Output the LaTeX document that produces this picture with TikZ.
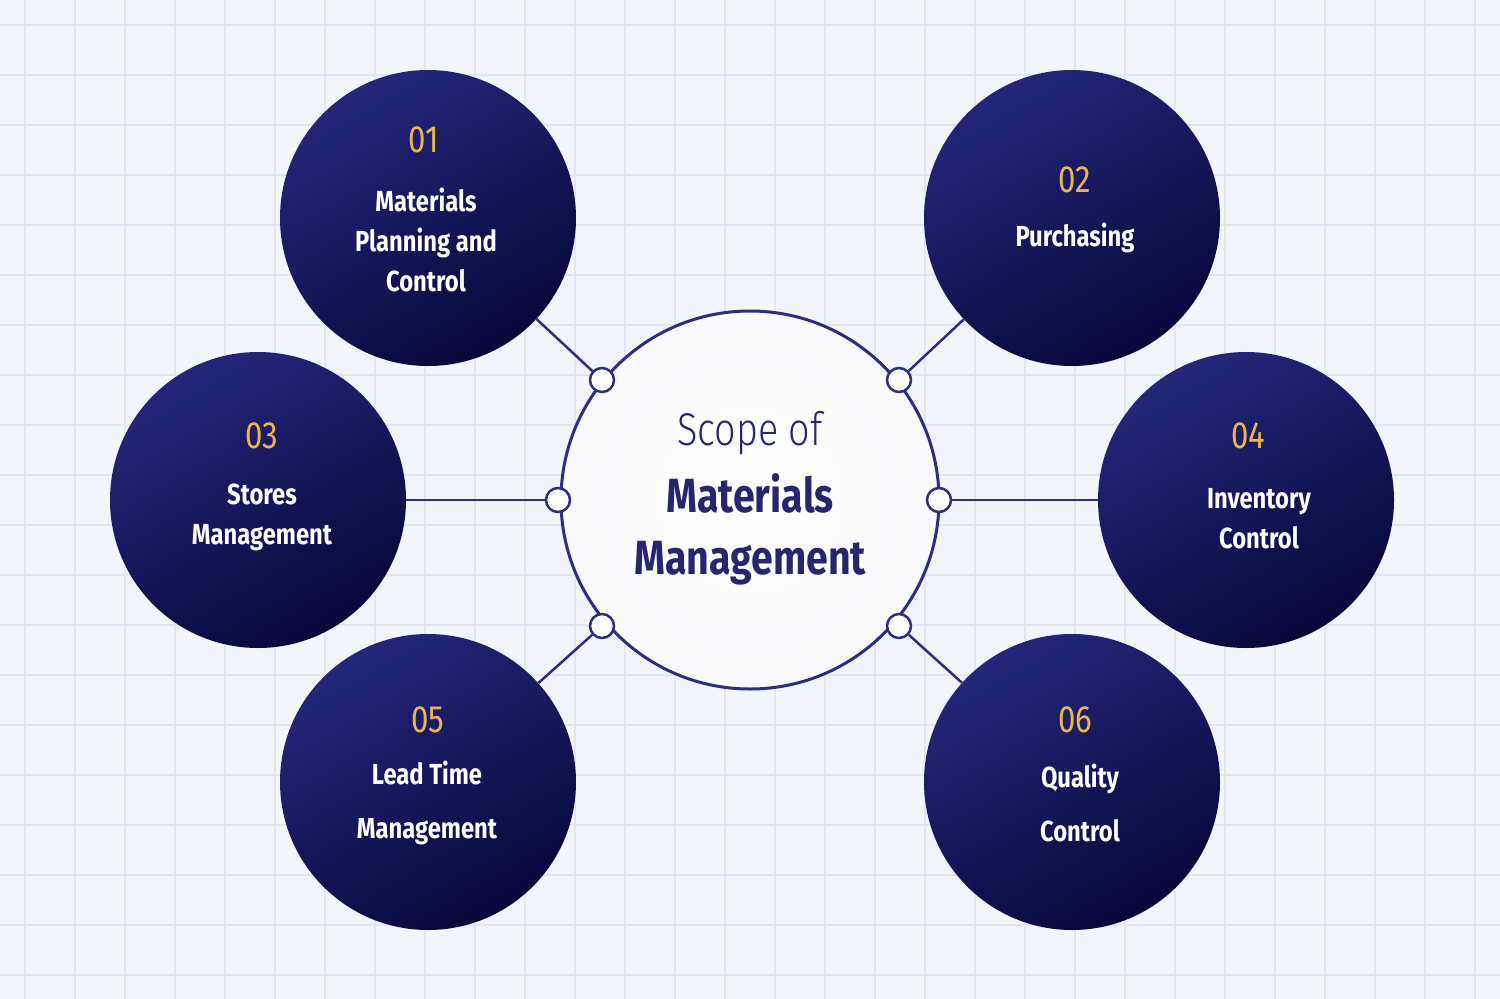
\documentclass[tikz,border=0pt]{standalone}
\usepackage{fontspec}
\setmainfont{Fira Sans}[FakeStretch=0.82]
\newfontfamily\lightf{Fira Sans Light}[FakeStretch=0.82]
\usetikzlibrary{shadings}
\definecolor{bg}{HTML}{F3F5FD}
\definecolor{gridc}{HTML}{E3E5F0}
\definecolor{navyA}{HTML}{25267A}
\definecolor{navyB}{HTML}{07073A}
\definecolor{gold}{HTML}{EDB54E}
\definecolor{ring}{HTML}{2E2E80}
\definecolor{ctr}{HTML}{26266E}
\begin{document}
\begin{tikzpicture}[x=1pt,y=-1pt,
  topic/.style={circle,minimum size=296pt,inner sep=0pt,top color=navyA,bottom color=navyB,shading angle=30,align=center,text=white,font=\bfseries\fontsize{29}{40}\selectfont},
  num/.style={font=\fontsize{38}{40}\selectfont,text=gold},
  dot/.style={circle,draw=ring,line width=2.5pt,fill=white,minimum size=24pt,inner sep=0pt},
  link/.style={draw=ring,line width=2.5pt}]
\fill[bg] (0,0) rectangle (1500,999);
\useasboundingbox (0,0) rectangle (1500,999);
\foreach \i in {25,75,...,1475} \draw[gridc,line width=1.5pt] (\i,0) -- (\i,999);
\foreach \j in {25,75,...,975} \draw[gridc,line width=1.5pt] (0,\j) -- (1500,\j);
\node[topic] (t1) at (428,218) {};
\node[topic] (t2) at (1072,218) {};
\node[topic] (t3) at (258,500) {};
\node[topic] (t4) at (1246,500) {};
\node[topic] (t5) at (428,782) {};
\node[topic] (t6) at (1072,782) {};
\node[circle,minimum size=378pt,draw=ring,line width=3pt,inner color=white,outer color=white!80!ring!12,inner sep=0pt] (c) at (750,500) {};
\node[dot] (d1) at (602,380) {};
\node[dot] (d2) at (899,380) {};
\node[dot] (d3) at (558,500) {};
\node[dot] (d4) at (939,500) {};
\node[dot] (d5) at (602,626) {};
\node[dot] (d6) at (899,626) {};
\foreach \k in {1,...,6} \draw[link] (d\k) -- (t\k);
\node[num] at (424,140) {01};
\node[num] at (1075,180) {02};
\node[num] at (262,436) {03};
\node[num] at (1248,436) {04};
\node[num] at (428,720) {05};
\node[num] at (1075,720) {06};
\node[text=white,font=\bfseries\fontsize{29}{40}\selectfont,align=center] at (426,240) {Materials\\Planning and\\Control};
\node[text=white,font=\bfseries\fontsize{29}{40}\selectfont,align=center] at (1075,238) {Purchasing};
\node[text=white,font=\bfseries\fontsize{29}{40}\selectfont,align=center] at (262,517) {Stores\\Management};
\node[text=white,font=\bfseries\fontsize{29}{40}\selectfont,align=center] at (1259,519) {Inventory\\Control};
\node[text=white,font=\bfseries\fontsize{29}{54}\selectfont,align=center] at (427,803) {Lead Time\\Management};
\node[text=white,font=\bfseries\fontsize{29}{54}\selectfont,align=center] at (1080,803) {Quality\\Control};
\node[text=ctr,font=\lightf\fontsize{46}{50}\selectfont] at (750,433) {Scope of};
\node[text=ctr,font=\bfseries\fontsize{48}{62}\selectfont,align=center] at (750,529) {Materials\\Management};
\end{tikzpicture}
\end{document}
